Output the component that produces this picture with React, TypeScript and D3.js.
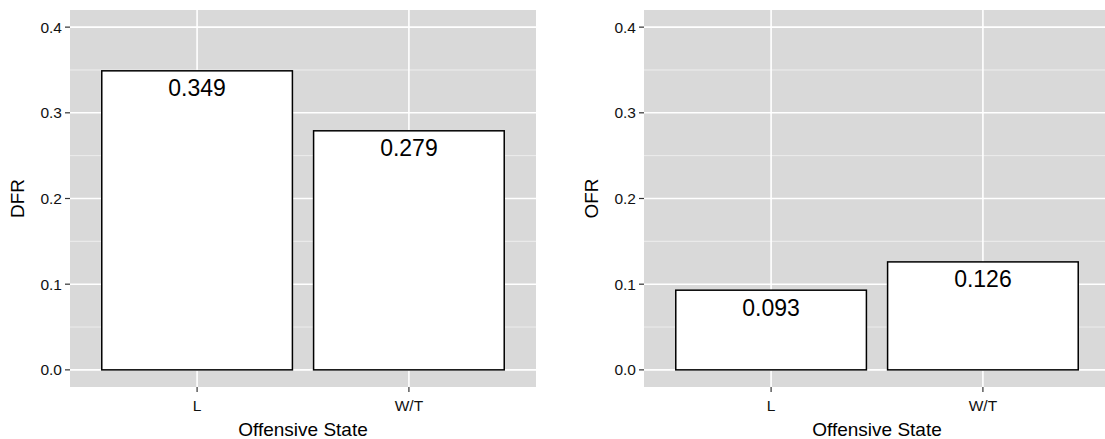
import React from "react";
import * as d3 from "d3";

const categories = ["L", "W/T"];
const dfrValues = [0.349, 0.279];
const ofrValues = [0.093, 0.126];
const yTicks = [0, 0.1, 0.2, 0.3, 0.4];
const yMinorTicks = [0.05, 0.15, 0.25, 0.35];
const xTitle = "Offensive State";
const panelTitles = ["DFR", "OFR"];

const W = 1105;
const H = 439;
const FONT = "'Liberation Sans', Arial, Helvetica, sans-serif";

function Panel({ x0, x1, values, yTitle }: { x0: number; x1: number; values: number[]; yTitle: string }) {
  const top = 10;
  const bottom = 387;
  const y = d3.scaleLinear().domain([-0.02, 0.42]).range([bottom, top]);
  const x = d3.scalePoint<string>().domain(categories).range([x0, x1]).padding(0.6);
  const step = x.step();
  const bw = step * 0.9;
  return (
    <g>
      <rect x={x0} y={top} width={x1 - x0} height={bottom - top} fill="#D9D9D9" />
      {yMinorTicks.map((t) => (
        <line key={"m" + t} x1={x0} x2={x1} y1={y(t)} y2={y(t)} stroke="#F2F2F2" strokeWidth={0.8} />
      ))}
      {yTicks.map((t) => (
        <line key={"g" + t} x1={x0} x2={x1} y1={y(t)} y2={y(t)} stroke="#FFFFFF" strokeWidth={1.6} />
      ))}
      {categories.map((c) => (
        <line key={"v" + c} x1={x(c)!} x2={x(c)!} y1={top} y2={bottom} stroke="#FFFFFF" strokeWidth={1.6} />
      ))}
      {categories.map((c, i) => (
        <rect
          key={"b" + c}
          x={x(c)! - bw / 2}
          y={y(values[i])}
          width={bw}
          height={y(0) - y(values[i])}
          fill="#FFFFFF"
          stroke="#000000"
          strokeWidth={1.5}
        />
      ))}
      {categories.map((c, i) => (
        <text
          key={"l" + c}
          x={x(c)!}
          y={y(values[i]) + 25.5}
          textAnchor="middle"
          fontFamily={FONT}
          fontSize={23}
          fill="#000"
        >
          {values[i].toFixed(3)}
        </text>
      ))}
      {yTicks.map((t) => (
        <g key={"yt" + t}>
          <line x1={x0 - 5} x2={x0} y1={y(t)} y2={y(t)} stroke="#333" strokeWidth={1.2} />
          <text x={x0 - 8} y={y(t)} dy="0.36em" textAnchor="end" fontFamily={FONT} fontSize={15.5} fill="#111">
            {t.toFixed(1)}
          </text>
        </g>
      ))}
      {categories.map((c) => (
        <g key={"xt" + c}>
          <line x1={x(c)!} x2={x(c)!} y1={bottom} y2={bottom + 5} stroke="#333" strokeWidth={1.2} />
          <text x={x(c)!} y={bottom + 24} textAnchor="middle" fontFamily={FONT} fontSize={15.5} fill="#111">
            {c}
          </text>
        </g>
      ))}
      <text
        x={(x0 + x1) / 2}
        y={436}
        textAnchor="middle"
        fontFamily={FONT}
        fontSize={19}
        fill="#000"
      >
        {xTitle}
      </text>
      <text
        transform={`translate(${x0 - 46},${(top + bottom) / 2}) rotate(-90)`}
        textAnchor="middle"
        fontFamily={FONT}
        fontSize={19}
        fill="#000"
      >
        {yTitle}
      </text>
    </g>
  );
}

export default function App() {
  return (
    <svg
      width={W}
      height={H}
      style={{ position: "absolute", left: 0, top: 0, background: "#fff" }}
    >
      <rect x={0} y={0} width={W} height={H} fill="#fff" />
      <Panel x0={70} x1={536} values={dfrValues} yTitle={panelTitles[0]} />
      <Panel x0={644} x1={1110} values={ofrValues} yTitle={panelTitles[1]} />
    </svg>
  );
}
